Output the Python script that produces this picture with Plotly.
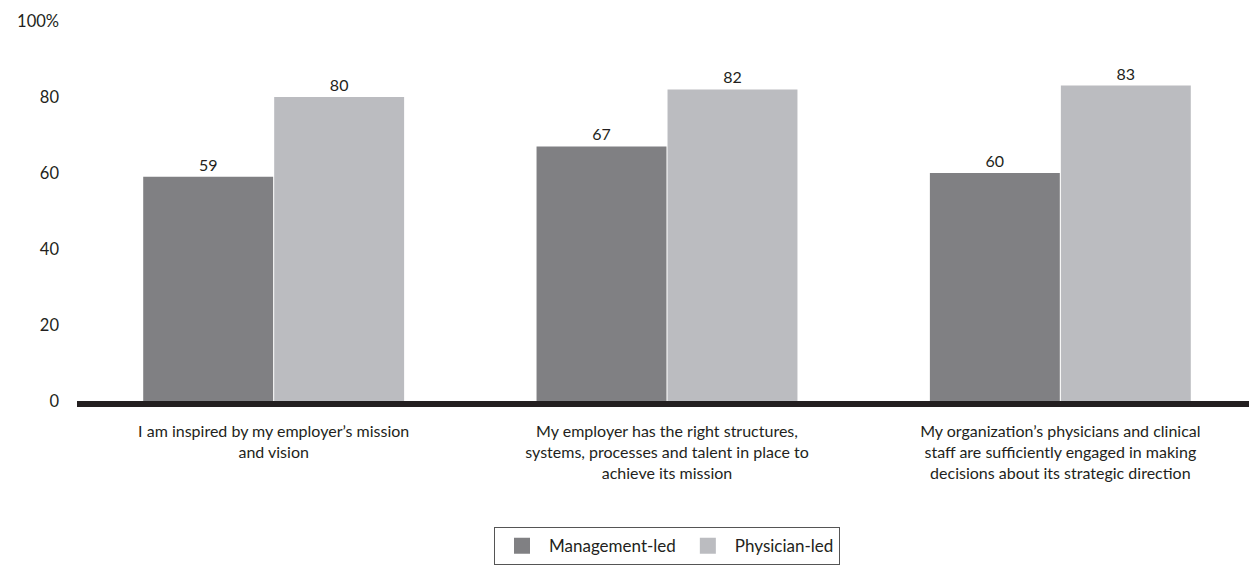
import plotly.graph_objects as go

categories = [
    "I am inspired by my employer’s mission<br>and vision",
    "My employer has the right structures,<br>systems, processes and talent in place to<br>achieve its mission",
    "My organization’s physicians and clinical<br>staff are sufficiently engaged in making<br>decisions about its strategic direction",
]
series_names = ["Management-led", "Physician-led"]
management_led = [59, 67, 60]
physician_led = [80, 82, 83]
y_tick_vals = [0, 20, 40, 60, 80, 100]
y_tick_text = ["0", "20", "40", "60", "80", "100%"]

FONT = "Lato, 'Open Sans', sans-serif"
COLORS = ["#808083", "#BBBCC0"]
TXT = "#231F20"

fig = go.Figure()
for name, vals, col in zip(series_names, [management_led, physician_led], COLORS):
    fig.add_trace(go.Bar(
        name=name, x=categories, y=vals,
        marker=dict(color=col, line=dict(width=0)),
        text=vals, textposition="outside",
        textfont=dict(size=16, color=TXT, family=FONT),
        cliponaxis=False, showlegend=False,
    ))
# legend entries with larger square swatches
for name, col in zip(series_names, COLORS):
    fig.add_trace(go.Scatter(
        name=name, x=[None], y=[None], mode="markers",
        marker=dict(symbol="square", size=17, color=col),
        showlegend=True,
    ))

# the page body has an 8px margin; compensate in the figure margins
fig.update_layout(
    width=1257, height=565,
    margin=dict(l=69, r=8, t=13.4, b=172, autoexpand=False),
    paper_bgcolor="white", plot_bgcolor="white",
    barmode="group", bargap=0.334, bargroupgap=0.008,
    font=dict(family=FONT, color=TXT, size=16),
    showlegend=True,
    legend=dict(
        orientation="h", x=0.5, xanchor="center", y=-0.332, yanchor="top",
        bordercolor="#555555", borderwidth=1,
        font=dict(size=17, family=FONT, color=TXT),
        itemwidth=44, traceorder="normal",
    ),
    xaxis=dict(
        showline=True, linecolor=TXT, linewidth=6,
        ticks="", showgrid=False, ticklabelstandoff=11,
        tickfont=dict(size=16, family=FONT, color=TXT),
    ),
    yaxis=dict(
        range=[0, 100], tickvals=y_tick_vals, ticktext=y_tick_text,
        showgrid=False, zeroline=False, showline=False, ticks="",
        ticklabelstandoff=17, ticklabeloverflow="allow",
        tickfont=dict(size=16.5, family=FONT, color=TXT),
    ),
)

fig.write_html("out.html")
